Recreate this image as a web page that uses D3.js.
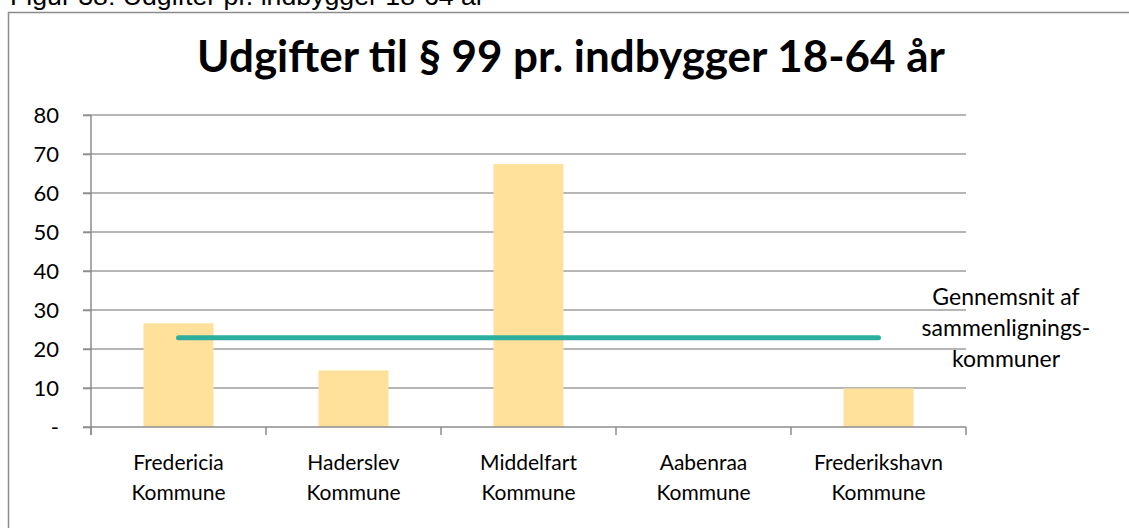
<!DOCTYPE html>
<html>
<head>
<meta charset="utf-8">
<script src="https://cdn.jsdelivr.net/npm/d3@7"></script>
<style>
  body { margin: 0; background: #fff; overflow: hidden; }
  svg { display: block; }
</style>
</head>
<body>
<script>
/* data */
var municipalities = ["Fredericia Kommune", "Haderslev Kommune", "Middelfart Kommune", "Aabenraa Kommune", "Frederikshavn Kommune"];
var spending = [26.6, 14.5, 67.4, 0, 9.9];
var average = 22.9;
var yTicks = [0, 10, 20, 30, 40, 50, 60, 70, 80];
var avgLabel = ["Gennemsnit af", "sammenlignings-", "kommuner"];
var chartTitle = "Udgifter til § 99 pr. indbygger 18-64 år";
var caption = "Figur 38: Udgifter pr. indbygger 18-64 år";

var W = 1129, H = 528;
var labelFont = "Lato, 'Open Sans', sans-serif";

var svg = d3.select("body").append("svg")
    .attr("width", W)
    .attr("height", H);

/* caption, clipped by the top edge as in the source */
var cap = svg.append("text")
    .attr("x", 10)
    .attr("y", 5)
    .style("font-family", "'Liberation Sans', Arial, sans-serif")
    .style("font-size", "20px")
    .attr("fill", "#000")
    .text(caption);
var capW = cap.node().getComputedTextLength();
cap.style("font-size", (20 * 475 / capW) + "px");

/* chart frame */
svg.append("rect")
    .attr("x", 8.5)
    .attr("y", 12.5)
    .attr("width", W)
    .attr("height", H)
    .attr("fill", "#fff")
    .attr("stroke", "#8c8c8c")
    .attr("stroke-width", 1.5);

/* title */
var title = svg.append("text")
    .attr("x", 571)
    .attr("y", 72)
    .attr("text-anchor", "middle")
    .style("font-family", labelFont)
    .style("font-weight", "bold")
    .style("font-size", "36px")
    .text(chartTitle);
var tW = title.node().getComputedTextLength();
title.style("font-size", (36 * 748 / tW) + "px");

/* scales */
var x = d3.scaleBand()
    .domain(municipalities)
    .range([91, 966])
    .paddingInner(0.6)
    .paddingOuter(0.3);

var y = d3.scaleLinear()
    .domain([0, 80])
    .range([427, 115]);

/* gridlines */
svg.append("g")
    .selectAll("line")
    .data(yTicks.filter(function (d) { return d > 0; }))
    .join("line")
    .attr("x1", 83)
    .attr("x2", 966)
    .attr("y1", function (d) { return y(d); })
    .attr("y2", function (d) { return y(d); })
    .attr("stroke", "#9e9e9e")
    .attr("stroke-width", 1.5);

/* bars */
svg.append("g")
    .selectAll("rect")
    .data(spending)
    .join("rect")
    .attr("x", function (d, i) { return x(municipalities[i]); })
    .attr("y", function (d) { return y(d); })
    .attr("width", x.bandwidth())
    .attr("height", function (d) { return y(0) - y(d); })
    .attr("fill", "#ffe19b");

/* y axis */
var yAxis = d3.axisLeft(y)
    .tickValues(yTicks)
    .tickSize(8)
    .tickPadding(24)
    .tickFormat(function (d) { return d === 0 ? "-" : d; });

var yg = svg.append("g")
    .attr("transform", "translate(91,0)")
    .call(yAxis);
yg.select(".domain").remove();
yg.selectAll(".tick line").attr("stroke", "#8c8c8c").attr("stroke-width", 1.5);
yg.selectAll(".tick text")
    .style("font-family", labelFont)
    .style("font-size", "22px")
    .attr("fill", "#000");
yg.append("line")
    .attr("x1", 0).attr("x2", 0)
    .attr("y1", y(80)).attr("y2", y(0) + 8)
    .attr("stroke", "#8c8c8c")
    .attr("stroke-width", 1.5);

/* x axis: ticks at category boundaries */
var bounds = municipalities.map(function (m) { return x(m) - x.step() * 0.3; });
bounds.push(966);
var xg = svg.append("g");
xg.append("line")
    .attr("x1", 83).attr("x2", 966)
    .attr("y1", y(0)).attr("y2", y(0))
    .attr("stroke", "#8c8c8c")
    .attr("stroke-width", 1.5);
xg.selectAll("line.tk")
    .data(bounds)
    .join("line")
    .attr("class", "tk")
    .attr("x1", function (d) { return d; })
    .attr("x2", function (d) { return d; })
    .attr("y1", y(0))
    .attr("y2", y(0) + 8)
    .attr("stroke", "#8c8c8c")
    .attr("stroke-width", 1.5);

xg.selectAll("text")
    .data(municipalities)
    .join("text")
    .attr("text-anchor", "middle")
    .attr("x", function (d) { return x(d) + x.bandwidth() / 2; })
    .attr("y", 470)
    .style("font-family", labelFont)
    .style("font-size", "21px")
    .each(function (d) {
        var parts = d.split(" ");
        var t = d3.select(this);
        var cx = t.attr("x");
        t.append("tspan").attr("x", cx).attr("dy", 0).text(parts[0]);
        t.append("tspan").attr("x", cx).attr("dy", 30).text(parts[1]);
    });

/* average line */
var first = municipalities[0], last = municipalities[municipalities.length - 1];
svg.append("line")
    .attr("x1", x(first) + x.bandwidth() / 2)
    .attr("x2", x(last) + x.bandwidth() / 2)
    .attr("y1", y(average))
    .attr("y2", y(average))
    .attr("stroke", "#2daf9f")
    .attr("stroke-width", 5)
    .attr("stroke-linecap", "round");

/* average label */
svg.append("text")
    .attr("text-anchor", "middle")
    .attr("x", 1006)
    .attr("y", 305)
    .style("font-family", labelFont)
    .style("font-size", "23px")
    .selectAll("tspan")
    .data(avgLabel)
    .join("tspan")
    .attr("x", 1006)
    .attr("dy", function (d, i) { return i === 0 ? 0 : 31; })
    .text(function (d) { return d; });
</script>
</body>
</html>
